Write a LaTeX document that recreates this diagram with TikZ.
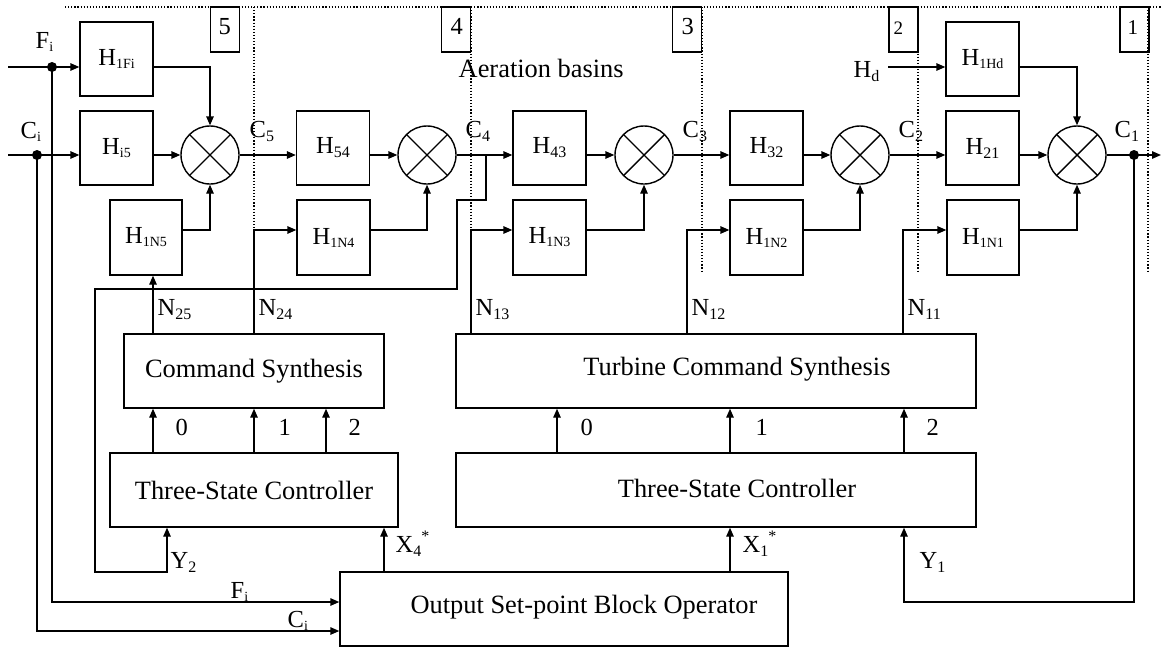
\documentclass[tikz,border=0pt]{standalone}
\usepackage{fontspec}
\setmainfont{Liberation Serif}
\usetikzlibrary{arrows.meta}
\newcommand\lsub[1]{\raisebox{-4pt}{\fontsize{16}{16}\selectfont #1}}
\newcommand\ssub[1]{\raisebox{-3pt}{\fontsize{14}{14}\selectfont #1}}
\newcommand\lsup[1]{\raisebox{11pt}{\fontsize{16}{16}\selectfont #1}}
\begin{document}
\begin{tikzpicture}[x=1pt,y=-1pt,
  font=\fontsize{24.5}{26}\selectfont,
  line width=1.4pt,
  >={Triangle[length=9pt,width=7.5pt]},
  blk/.style={draw, line width=1.4pt, inner sep=0pt, minimum width=73pt, minimum height=74pt},
  big/.style={draw, line width=1.4pt, inner sep=0pt, minimum height=74pt, font=\fontsize{26.4}{28}\selectfont},
  bigtext/.style={inner sep=0pt, font=\fontsize{26.4}{28}\selectfont},
  numbox/.style={draw, line width=1.4pt, inner sep=0pt, minimum width=29pt, minimum height=45pt},
  sumnode/.style={draw, circle, line width=1.4pt, minimum size=58pt, inner sep=0pt,
    path picture={\draw[line width=1.4pt] (path picture bounding box.north west) -- (path picture bounding box.south east)
      (path picture bounding box.south west) -- (path picture bounding box.north east);}},
  dot/.style={circle, fill, inner sep=0pt, minimum size=10pt},
  lbl/.style={anchor=base west, inner sep=0pt},
  dotline/.style={line width=1.2pt, dash pattern=on 1.2pt off 1.9pt}
]
\useasboundingbox (0,0) rectangle (1161,648);

% dotted zone lines
\draw[dotline] (65,7) -- (1161,7);
\draw[dotline] (254,7) -- (254,230);
\draw[dotline] (471,7) -- (471,230);
\draw[dotline] (702,7) -- (702,272);
\draw[dotline] (918,7) -- (918,272);
\draw[dotline] (1148,7) -- (1148,272);

% zone number boxes
\node[numbox] (z5) at (225,29.5) {};
\node[lbl] (z5t) at (218,34) {5};
\node[numbox] (z4) at (456,29.5) {};
\node[lbl] (z4t) at (450,34) {4};
\node[numbox] (z3) at (687,29.5) {};
\node[lbl] (z3t) at (681,34) {3};
\node[numbox] (z2) at (903.5,29.5) {};
\node[lbl, font=\fontsize{19}{19}\selectfont] (z2t) at (893,34) {2};
\node[numbox] (z1) at (1134.5,29.5) {};
\node[lbl, font=\fontsize{21}{21}\selectfont] (z1t) at (1127,34) {1};

% blocks
\node[blk] (h1fi) at (116.5,59) {H\ssub{1Fi}};
\node[blk] (hi5) at (116.5,148) {H\ssub{i5}};
\node[blk, minimum width=72pt, minimum height=75pt] (h1n5) at (146,237.5) {H\ssub{1N5}};
\node[sumnode] (s5) at (210,155) {};
\node[blk] (h54) at (333,148) {H\lsub{54}};
\node[blk, minimum height=75pt] (h1n4) at (333.5,237.5) {H\ssub{1N4}};
\node[sumnode] (s4) at (427,155) {};
\node[blk] (h43) at (549.5,148) {H\lsub{43}};
\node[blk, minimum height=75pt] (h1n3) at (549.5,237.5) {H\ssub{1N3}};
\node[sumnode] (s3) at (644,155) {};
\node[blk] (h32) at (766.5,148) {H\lsub{32}};
\node[blk, minimum height=75pt] (h1n2) at (766.5,237.5) {H\ssub{1N2}};
\node[sumnode] (s2) at (860,155) {};
\node[blk] (h1hd) at (982.5,59) {H\ssub{1Hd}};
\node[blk] (h21) at (982.5,148) {H\lsub{21}};
\node[blk, minimum width=72pt, minimum height=75pt] (h1n1) at (983,237.5) {H\ssub{1N1}};
\node[sumnode] (s1) at (1077,155) {};

\node[big, minimum width=260pt] (cs) at (254,371) {Command Synthesis};
\node[big, minimum width=520pt] (tcs) at (716,371) {};
\node[bigtext] (tcst) at (737,369) {Turbine Command Synthesis};
\node[big, minimum width=288pt] (tscl) at (254,490) {Three-State Controller};
\node[big, minimum width=520pt] (tscr) at (716,490) {};
\node[bigtext] (tscrt) at (737,488) {Three-State Controller};
\node[big, minimum width=448pt] (osbo) at (564,609) {};
\node[bigtext] (osbot) at (584,607) {Output Set-point Block Operator};

% free ends, junctions
\coordinate (fin) at (8,67);
\coordinate (cin) at (8,155);
\coordinate (hdin) at (888,67);
\coordinate (out) at (1161,155);
\node[dot] (fdot) at (52,67) {};
\node[dot] (cdot) at (37,155) {};
\node[dot] (c1dot) at (1134,155) {};
\coordinate (c4j) at (486,155);
\coordinate (y2b) at (167,572);
\coordinate (y1b) at (904,602);

% main chain
\draw[->] (fin) -- (h1fi.west |- fin);
\draw[->] (cin) -- (hi5.west |- cin);
\draw[->] (h1fi.east |- fin) -| (s5.north);
\draw[->] (hi5.east |- s5) -- (s5.west);
\draw[->] ([yshift=7.5pt]h1n5.east) -| (s5.south);
\draw[->] (s5.east) -- (h54.west |- s5);
\draw[->] (h54.east |- s4) -- (s4.west);
\draw[->] ([yshift=7.5pt]h1n4.east) -| (s4.south);
\draw[->] (s4.east) -- (h43.west |- s4);
\draw[->] (h43.east |- s3) -- (s3.west);
\draw[->] ([yshift=7.5pt]h1n3.east) -| (s3.south);
\draw[->] (s3.east) -- (h32.west |- s3);
\draw[->] (h32.east |- s2) -- (s2.west);
\draw[->] ([yshift=7.5pt]h1n2.east) -| (s2.south);
\draw[->] (s2.east) -- (h21.west |- s2);
\draw[->] (hdin) -- (h1hd.west |- hdin);
\draw[->] (h1hd.east |- hdin) -| (s1.north);
\draw[->] (h21.east |- s1) -- (s1.west);
\draw[->] ([yshift=7.5pt]h1n1.east) -| (s1.south);
\draw[->] (s1.east) -- (out);

% inputs to set-point operator
\draw[->] (fdot.center) |- ([yshift=7pt]osbo.west);
\draw[->] (cdot.center) |- ([yshift=-22pt]osbo.west);

% feedback loops
\draw[->] (c4j) -- (486,200) -- (457,200) -- (457,289) -- (95,289) -- (95,572) -- (y2b) -- (y2b |- tscl.south);
\draw[->] (c1dot.center) |- (y1b) -- (y1b |- tscr.south);

% command lines
\draw[->] (cs.north -| 153,0) -- (h1n5.south -| 153,0);
\draw[->] (cs.north -| 254,0) |- ([yshift=7.5pt]h1n4.west);
\draw[->] (tcs.north -| 471,0) |- ([yshift=7.5pt]h1n3.west);
\draw[->] (tcs.north -| 687,0) |- ([yshift=7.5pt]h1n2.west);
\draw[->] (tcs.north -| 903,0) |- ([yshift=7.5pt]h1n1.west);

\foreach \x in {153,254,326} \draw[->] (tscl.north -| \x,0) -- (cs.south -| \x,0);
\foreach \x in {557,730,904} \draw[->] (tscr.north -| \x,0) -- (tcs.south -| \x,0);
\draw[->] (osbo.north -| 384,0) -- (tscl.south -| 384,0);
\draw[->] (osbo.north -| 730,0) -- (tscr.south -| 730,0);

% labels
\node[lbl] (lfi) at (35,48) {F\ssub{i}};
\node[lbl] (lci) at (20,138) {C\ssub{i}};
\node[lbl] (lc5) at (249,137) {C\lsub{5}};
\node[lbl] (lc4) at (465,137) {C\lsub{4}};
\node[lbl] (lc3) at (682,137) {C\lsub{3}};
\node[lbl] (lc2) at (898,137) {C\lsub{2}};
\node[lbl] (lc1) at (1114,137) {C\lsub{1}};
\node[lbl, font=\fontsize{26.4}{28}\selectfont] (aer) at (458,77) {Aeration basins};
\node[lbl] (lhd) at (853,77) {H\lsub{d}};
\node[lbl] (ln25) at (157,315) {N\lsub{25}};
\node[lbl] (ln24) at (258,315) {N\lsub{24}};
\node[lbl] (ln13) at (475,315) {N\lsub{13}};
\node[lbl] (ln12) at (691,315) {N\lsub{12}};
\node[lbl] (ln11) at (907,315) {N\lsub{11}};
\node[lbl] (l0a) at (175,435) {0};
\node[lbl] (l1a) at (278,435) {1};
\node[lbl] (l2a) at (348,435) {2};
\node[lbl] (l0b) at (580,435) {0};
\node[lbl] (l1b) at (755,435) {1};
\node[lbl] (l2b) at (926,435) {2};
\node[lbl] (ly2) at (170,568) {Y\lsub{2}};
\node[lbl] (lfi2) at (230,598) {F\ssub{i}};
\node[lbl] (lci2) at (287,627) {C\ssub{i}};
\node[lbl] (lx4) at (395,552) {X\lsub{4}\lsup{*}};
\node[lbl] (lx1) at (742,552) {X\lsub{1}\lsup{*}};
\node[lbl] (ly1) at (919,568) {Y\lsub{1}};
\end{tikzpicture}
\end{document}
